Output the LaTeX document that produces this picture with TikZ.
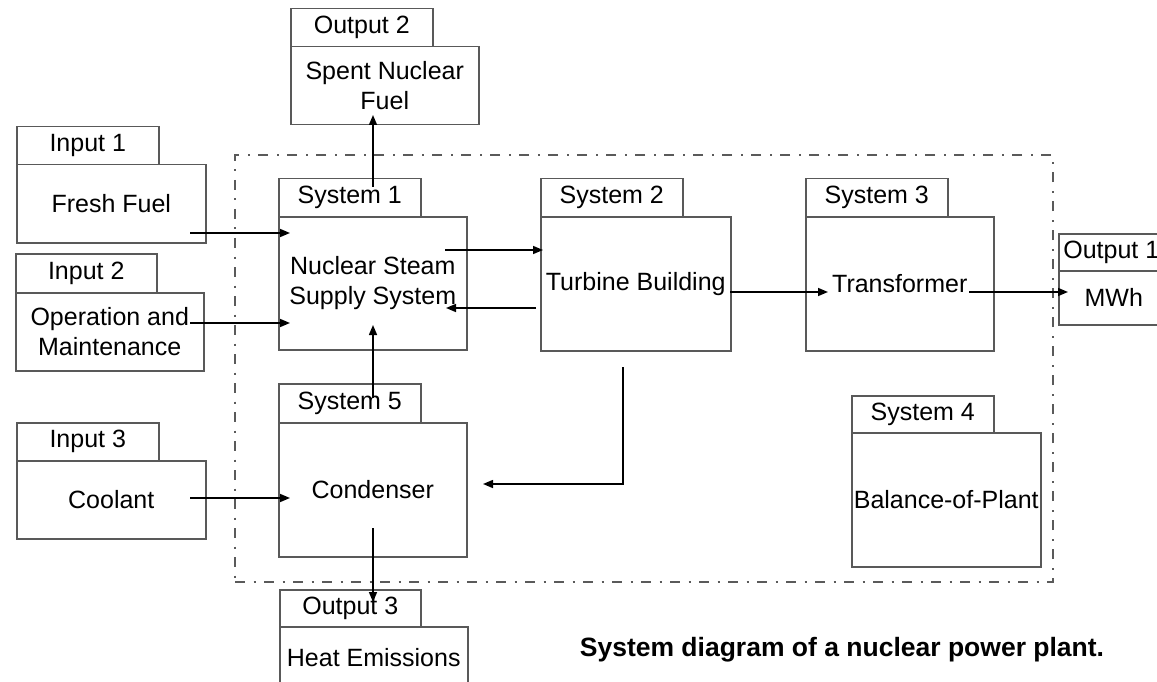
\documentclass[tikz,border=0pt]{standalone}
\usepackage{fontspec}
\setmainfont{Liberation Sans}
\usetikzlibrary{arrows.meta}
\definecolor{boxgray}{HTML}{595959}
\definecolor{dashgray}{HTML}{5A5A5A}
\tikzset{
  bx/.style={draw=boxgray, line width=1.5pt, anchor=north west, inner sep=0pt,
    align=center, font=\fontsize{25}{30}\selectfont},
  arr/.style={-{Triangle[length=10pt,width=8pt]}, line width=1.5pt, draw=black},
  plantframe/.style={draw=dashgray, line width=2pt,
    dash pattern=on 10pt off 8.5pt on 2pt off 8.5pt, anchor=north west, inner sep=0pt},
  captionstyle/.style={font=\bfseries\fontsize{26.5}{30}\selectfont, anchor=center}
}
\begin{document}
\begin{tikzpicture}[x=1pt,y=-1pt]
\useasboundingbox (0,0) rectangle (1157,682);
% system boundary
\node[plantframe, minimum width=818pt, minimum height=427pt] (plant) at (234,154) {};
% outputs
\node[bx, minimum width=142pt, minimum height=38pt] (o2t) at (290,8) {Output 2};
\node[bx, minimum width=188pt, minimum height=78pt] (o2b) at (290,46) {Spent Nuclear\\Fuel};
% inputs
\node[bx, minimum width=142pt, minimum height=38pt] (i1t) at (16,126) {Input 1};
\node[bx, minimum width=189pt, minimum height=78pt] (i1b) at (16,164) {Fresh Fuel};
\node[bx, minimum width=141pt, minimum height=39pt] (i2t) at (15,253) {Input 2};
\node[bx, minimum width=188pt, minimum height=78pt] (i2b) at (15,292) {Operation and\\Maintenance};
\node[bx, minimum width=142pt, minimum height=38pt] (i3t) at (16,422) {Input 3};
\node[bx, minimum width=189pt, minimum height=78pt] (i3b) at (16,460) {Coolant};
% systems
\node[bx, minimum width=142pt, minimum height=38pt] (s1t) at (278,178) {System 1};
\node[bx, minimum width=188pt, minimum height=133pt] (s1b) at (278,216) {Nuclear Steam\\Supply System};
\node[bx, minimum width=142pt, minimum height=39pt] (s5t) at (278,383) {System 5};
\node[bx, minimum width=188pt, minimum height=134pt] (s5b) at (278,422) {Condenser};
\node[bx, minimum width=141pt, minimum height=37pt] (o3t) at (279,589) {Output 3};
\node[bx, minimum width=188pt, minimum height=62pt] (o3b) at (279,626) {Heat Emissions};
\node[bx, minimum width=142pt, minimum height=38pt] (s2t) at (540,178) {System 2};
\node[bx, minimum width=190pt, minimum height=134pt] (s2b) at (540,216) {Turbine Building};
\node[bx, minimum width=142pt, minimum height=38pt] (s3t) at (805,178) {System 3};
\node[bx, minimum width=188pt, minimum height=134pt] (s3b) at (805,216) {Transformer};
\node[bx, minimum width=105pt, minimum height=37pt] (o1t) at (1058,233) {Output 1};
\node[bx, minimum width=110pt, minimum height=54pt] (o1b) at (1058,270) {MWh};
\node[bx, minimum width=142pt, minimum height=37pt] (s4t) at (851,395) {System 4};
\node[bx, minimum width=189pt, minimum height=134pt] (s4b) at (851,432) {Balance-of-Plant};
% caption
\node[captionstyle] (cap) at (842,650) {System diagram of a nuclear power plant.};
% connector end points
\coordinate (ffA) at (190,233); \coordinate (ffB) at (290,233);
\coordinate (omA) at (190,323); \coordinate (omB) at (290,323);
\coordinate (coA) at (190,498); \coordinate (coB) at (290,498);
\coordinate (ntA) at (445,250); \coordinate (ntB) at (543,250);
\coordinate (tnA) at (536,308); \coordinate (tnB) at (446,308);
\coordinate (sfA) at (373,187); \coordinate (sfB) at (373,115);
\coordinate (cnA) at (373,398); \coordinate (cnB) at (373,325);
\coordinate (heA) at (373,528); \coordinate (heB) at (373,602);
\coordinate (tcA) at (623,367); \coordinate (tcB) at (483,484);
\coordinate (ttA) at (730,292); \coordinate (ttB) at (828,292);
\coordinate (toA) at (969,292); \coordinate (toB) at (1068,292);
% connectors
\draw[arr] (ffA) -- (ffB);
\draw[arr] (omA) -- (omB);
\draw[arr] (coA) -- (coB);
\draw[arr] (ntA) -- (ntB);
\draw[arr] (tnA) -- (tnB);
\draw[arr] (sfA) -- (sfB);
\draw[arr] (cnA) -- (cnB);
\draw[arr] (heA) -- (heB);
\draw[arr] (tcA) |- (tcB);
\draw[arr] (ttA) -- (ttB);
\draw[arr] (toA) -- (toB);
\end{tikzpicture}
\end{document}
